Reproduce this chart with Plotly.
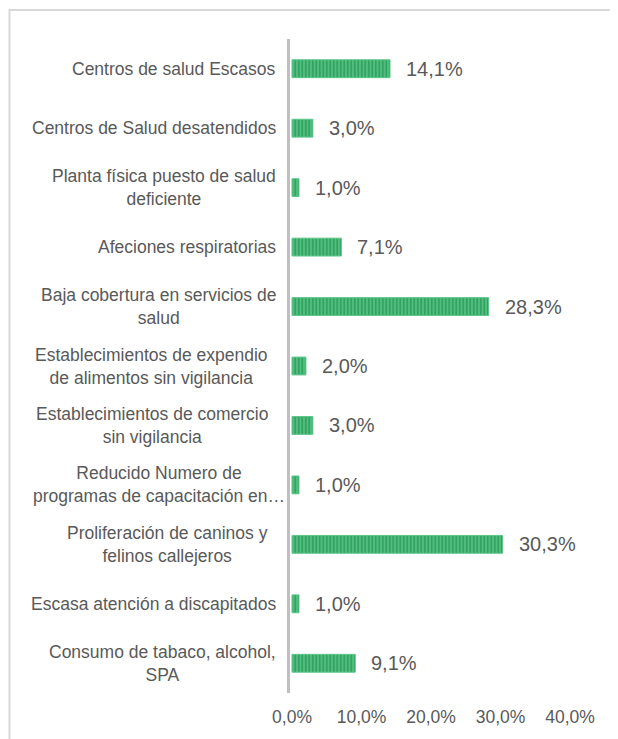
import plotly.graph_objects as go

categories = [
    "Centros de salud Escasos",
    "Centros de Salud desatendidos",
    "Planta física puesto de salud<br>deficiente",
    "Afeciones respiratorias",
    "Baja cobertura en servicios de<br>salud",
    "Establecimientos de expendio<br>de alimentos sin vigilancia",
    "Establecimientos de comercio<br>sin vigilancia",
    "Reducido Numero de<br>programas de capacitación en…",
    "Proliferación de caninos y<br>felinos callejeros",
    "Escasa atención a discapitados",
    "Consumo de tabaco, alcohol,<br>SPA",
]
values = [14.1, 3.0, 1.0, 7.1, 28.3, 2.0, 3.0, 1.0, 30.3, 1.0, 9.1]
tick_vals = [0, 10, 20, 30, 40]
tick_text = ["0,0%", "10,0%", "20,0%", "30,0%", "40,0%"]

# horizontal nudge (px) of wrapped category labels, mimicking the source's text boxes
label_nudge = [0, 0, 0, 0, 0, -8, -8, 9, -8, 0, 0]

FONT = "Liberation Sans, Arial, sans-serif"
TXT = "#595959"

ypos = list(range(len(categories)))

# page body has an 8px default margin; compensate
OFF = 8
L, T = 290 - OFF, 39 - OFF
PW, PH = 280, 654

fig = go.Figure()
fig.add_trace(go.Bar(
    x=values,
    y=ypos,
    orientation="h",
    width=0.3,
    marker=dict(
        color="#0F8443",
        line=dict(color="#5CC58A", width=1),
        pattern=dict(shape="|", fgcolor="#0E8242", bgcolor="#58C484",
                     size=3.5, solidity=0.6),
    ),
    hoverinfo="skip",
))

annotations = []
for cat, y, nd in zip(categories, ypos, label_nudge):
    annotations.append(dict(
        x=0, xref="paper", y=y, yref="y", text=cat, showarrow=False,
        xanchor="right", yanchor="middle", align="center", xshift=-12 + nd,
        font=dict(family=FONT, size=17.5, color=TXT),
    ))
for v, y in zip(values, ypos):
    annotations.append(dict(
        x=v, xref="x", y=y, yref="y",
        text=f"{v:.1f}%".replace(".", ","), showarrow=False,
        xanchor="left", yanchor="middle", xshift=14,
        font=dict(family=FONT, size=20, color=TXT),
    ))

fig.update_layout(
    width=618, height=739,
    margin=dict(l=L, r=618 - L - PW, t=T, b=739 - T - PH, autoexpand=False),
    paper_bgcolor="white", plot_bgcolor="white",
    showlegend=False,
    annotations=annotations,
    xaxis=dict(
        range=[-0.29, 40], tickvals=tick_vals, ticktext=tick_text,
        showgrid=False, zeroline=False, showline=False, ticks="",
        ticklabelstandoff=11,
        tickfont=dict(family=FONT, size=17.5, color=TXT),
        automargin=False, fixedrange=True,
    ),
    yaxis=dict(
        range=[len(categories) - 0.5, -0.5],
        showticklabels=False, showgrid=False, zeroline=False,
        showline=True, linecolor="#BFBFBF", linewidth=3, ticks="",
        automargin=False, fixedrange=True,
    ),
    shapes=[dict(
        type="rect", xref="paper", yref="paper",
        x0=(9.5 - 290) / PW, x1=1.3,
        y0=-0.2, y1=(693 - 10) / PH,
        line=dict(color="#D9D9D9", width=2), fillcolor="rgba(0,0,0,0)",
        layer="below",
    )],
)

fig.write_html("out.html")
